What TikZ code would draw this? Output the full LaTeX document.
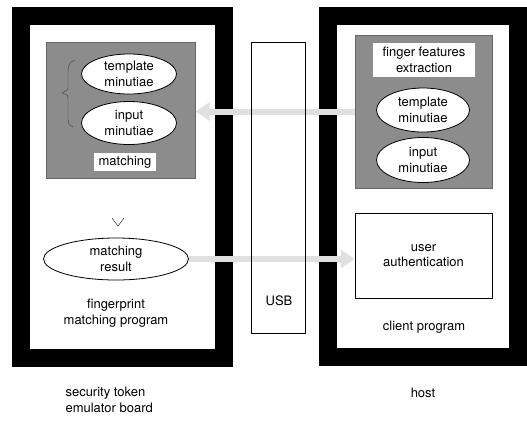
\documentclass[tikz,border=0pt]{standalone}
\usepackage{fontspec}
\setmainfont{TeX Gyre Heros}
\usetikzlibrary{arrows.meta,positioning,shapes.geometric}
\begin{document}
\begin{tikzpicture}[x=1pt,y=-1pt,
    every node/.style={font=\fontsize{13}{15.5}\selectfont,align=center},
    boardframe/.style={draw=black,line width=18pt},
    shadedbox/.style={fill=black!45,draw=black!60,thin},
    minu/.style={ellipse,draw,fill=white,thick,inner sep=0pt},
    whitelabel/.style={fill=white,inner sep=2pt},
    bigarrow/.style={line width=6pt,draw=black!12,-{Triangle[width=18pt,length=14pt]}}]
    \useasboundingbox (0,0) rectangle (527,421);
    % the two boards
    \draw[boardframe] (21,16) rectangle (224,358);
    \draw[boardframe] (328,16) rectangle (518,357);
    % security token side
    \node[shadedbox,minimum width=149pt,minimum height=136pt] (lmatch) at (121,110) {};
    \node[minu,minimum width=95pt,minimum height=40pt] (ltmpl) at (129,74) {template\\minutiae};
    \node[minu,minimum width=95pt,minimum height=43pt] (linp) at (129,123) {input\\minutiae};
    \node[whitelabel,minimum width=62pt,minimum height=18pt] (lmlab) at (125,162) {matching};
    \draw[black!75] (75,60) .. controls (69,62) and (68,66) .. (68,72) -- (68,86)
        .. controls (68,90) .. (62,93) .. controls (68,95) .. (68,100) -- (68,119)
        .. controls (68,124) and (70,126) .. (73,127);
    \node[minu,minimum width=145pt,minimum height=42pt] (res) at (116,259) {matching\\result};
    \draw (112,218) -- (118,226) -- (124,218);
    \node (lprog) at (116,313) {fingerprint\\matching program};
    \node[align=left,anchor=west] (lboard) at (62,400) {security token\\emulator board};
    % host side
    \node[shadedbox,minimum width=137pt,minimum height=153pt] (rext) at (423.5,111.5) {};
    \node[whitelabel,minimum width=102pt,minimum height=34pt] (rflab) at (424,60) {finger features\\extraction};
    \node[minu,minimum width=93pt,minimum height=44pt] (rtmpl) at (423,110) {template\\minutiae};
    \node[minu,minimum width=93pt,minimum height=45pt] (rinp) at (423,160) {input\\minutiae};
    \node[draw,thin,minimum width=137pt,minimum height=85pt] (auth) at (423.5,255.5) {user\\authentication};
    \node (rprog) at (424,327) {client program};
    \node (rboard) at (423,393) {host};
    % transfers over usb
    \draw[bigarrow] (rext.west) -- (rext.west -| lmatch.east);
    \draw[bigarrow] (res.east) -- (res.east -| auth.west);
    \node[draw,thin,minimum width=54pt,minimum height=291pt] (usb) at (278,187.5) {};
    \node (usblab) at (279,301) {USB};
\end{tikzpicture}
\end{document}
